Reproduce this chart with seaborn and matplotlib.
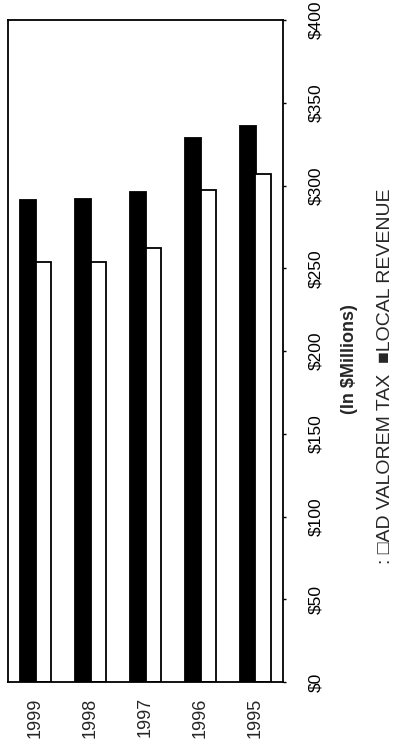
import matplotlib
matplotlib.use("Agg")
import matplotlib.pyplot as plt
import seaborn as sns
import pandas as pd

# Values (in $ millions)
years = ["1999", "1998", "1997", "1996", "1995"]
local_revenue = [291, 292, 296, 329, 336]
ad_valorem_tax = [254, 254, 262, 297, 307]
value_ticks = [0, 50, 100, 150, 200, 250, 300, 350, 400]
value_labels = ["$0", "$50", "$100", "$150", "$200", "$250", "$300", "$350", "$400"]

df = pd.DataFrame({
    "Year": years * 2,
    "Value": local_revenue + ad_valorem_tax,
    "Series": ["LOCAL REVENUE"] * len(years) + ["AD VALOREM TAX"] * len(years),
})

sns.set_theme(style="white")
plt.rcParams["font.family"] = ["Liberation Sans", "DejaVu Sans"]

W, H = 397, 747
fig = plt.figure(figsize=(W / 100, H / 100), dpi=100)
ax = fig.add_axes([8 / W, (H - 682) / H, 275 / W, 662 / H])

sns.barplot(
    data=df, x="Year", y="Value", hue="Series",
    order=years, hue_order=["LOCAL REVENUE", "AD VALOREM TAX"],
    palette=["black", "white"], edgecolor="black", linewidth=1.3,
    width=0.58, gap=0, legend=False, ax=ax,
)

ax.set_xlim(-0.5, len(years) - 0.5)
ax.set_ylim(0, 400)
ax.set_xlabel("")
ax.set_ylabel("")

# value axis on the right, rotated labels
ax.yaxis.tick_right()
ax.set_yticks(value_ticks)
ax.set_yticklabels(value_labels, rotation=90, va="center", fontsize=12.5)
ax.tick_params(axis="y", right=True, length=2, width=1, pad=16, colors="black")
ax.tick_params(axis="x", length=0, pad=11, labelsize=13)
for lbl in ax.get_xticklabels():
    lbl.set_rotation(90)

for s in ax.spines.values():
    s.set_visible(True)
    s.set_color("black")
    s.set_linewidth(1.3)

# title and legend text run along the right edge, rotated
fig.text(350 / W, 1 - 414 / H, "(In $Millions)", rotation=90,
         ha="center", va="bottom", fontsize=13, fontweight="bold")
fig.text(385 / W, 1 - 564 / H, ": \u25a1AD VALOREM TAX  \u25a0LOCAL REVENUE", rotation=90,
         ha="center", va="bottom", fontsize=14)

fig.savefig("out.png", dpi=100, facecolor="white")
